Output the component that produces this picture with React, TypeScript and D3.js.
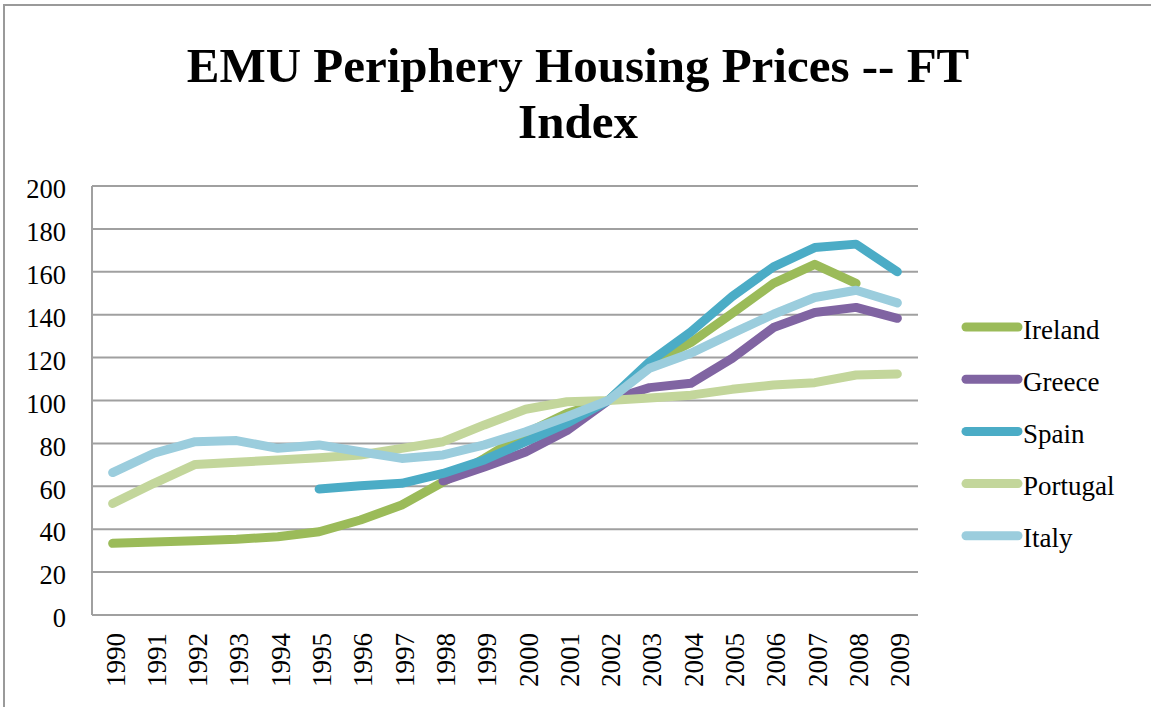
import React from "react";
import * as d3 from "d3";

const years = ["1990","1991","1992","1993","1994","1995","1996","1997","1998","1999","2000","2001","2002","2003","2004","2005","2006","2007","2008","2009"];
const ireland = [33.4, 34, 34.6, 35.3, 36.5, 38.8, 44.3, 51.3, 62, 73, 84.7, 94, 100, 117, 127, 140.6, 154.6, 163.5, 154.6, null];
const greece = [null, null, null, null, null, null, null, null, 62.5, 69, 76, 86, 100, 106, 108, 119.6, 134, 141, 143.4, 138.3];
const spain = [null, null, null, null, null, 58.7, 60.3, 61.4, 66, 72.3, 80.8, 89.4, 100, 118, 132, 148.5, 162.3, 171.3, 172.9, 160];
const portugal = [52, 61.4, 70.2, 71.2, 72.3, 73.3, 74.6, 77.7, 80.8, 88.6, 95.9, 99.4, 100, 101.2, 102.5, 105.2, 107.2, 108.3, 111.9, 112.4];
const italy = [66.4, 75.4, 80.8, 81.3, 77.7, 79.3, 76.1, 73, 74.6, 79.3, 85.4, 92.4, 100, 115, 122, 131.3, 140.2, 148, 151.4, 145.5];
const seriesNames = ["Ireland", "Greece", "Spain", "Portugal", "Italy"];
const seriesColors = ["#9BBB59", "#8064A2", "#4BACC6", "#C3D69B", "#9BCDDD"];
const yTicks = [0, 20, 40, 60, 80, 100, 120, 140, 160, 180, 200];
const titleLines = ["EMU Periphery Housing Prices -- FT", "Index"];

export default function App() {
  const W = 1151, H = 707;
  const left = 92, right = 918, top = 186, bottom = 615;
  const x = d3.scaleBand().domain(years).range([left, right]);
  const y = d3.scaleLinear().domain([0, 200]).range([bottom, top]);
  const cx = (yr: string) => (x(yr) as number) + x.bandwidth() / 2;
  const allSeries = [ireland, greece, spain, portugal, italy];
  const line = d3
    .line<number | null>()
    .defined((d) => d != null)
    .x((_, i) => cx(years[i]))
    .y((d) => y(d as number));
  const serif = "'Liberation Serif', 'Times New Roman', serif";
  const gridColor = "#A0A0A0";
  return (
    <svg width={W} height={H} style={{ position: "absolute", left: 0, top: 0, background: "#fff" }} fontFamily={serif}>
      <rect x={4} y={5} width={W + 10} height={H + 10} fill="#fff" stroke="#9a9a9a" strokeWidth={2} />
      {titleLines.map((t, i) => (
        <text key={t} x={578} y={82 + i * 56} textAnchor="middle" fontSize={49} fontWeight="bold" fill="#000">
          {t}
        </text>
      ))}
      {yTicks.map((t) => (
        <line key={"g" + t} x1={left} x2={right} y1={y(t)} y2={y(t)} stroke={gridColor} strokeWidth={2} />
      ))}
      <line x1={left} x2={left} y1={top} y2={bottom} stroke={gridColor} strokeWidth={2} />
      {yTicks.map((t) => (
        <text key={"l" + t} x={66} y={y(t) + 3} dy="0.35em" textAnchor="end" fontSize={26.5} fill="#000">
          {t}
        </text>
      ))}
      {years.map((yr) => (
        <text
          key={yr}
          transform={`translate(${cx(yr) + 2.4},633) rotate(-90)`}
          dy="0.35em"
          textAnchor="end"
          fontSize={27}
          fill="#000"
        >
          {yr}
        </text>
      ))}
      {allSeries.map((s, i) => (
        <path
          key={seriesNames[i]}
          d={line(s) || ""}
          fill="none"
          stroke={seriesColors[i]}
          strokeWidth={9}
          strokeLinecap="round"
          strokeLinejoin="round"
        />
      ))}
      {seriesNames.map((n, i) => {
        const ly = 327 + i * 52.2;
        return (
          <g key={"lg" + n}>
            <line x1={966} x2={1018} y1={ly} y2={ly} stroke={seriesColors[i]} strokeWidth={9} strokeLinecap="round" />
            <text x={1023} y={ly + 11.5} fontSize={27} fill="#000">
              {n}
            </text>
          </g>
        );
      })}
    </svg>
  );
}
